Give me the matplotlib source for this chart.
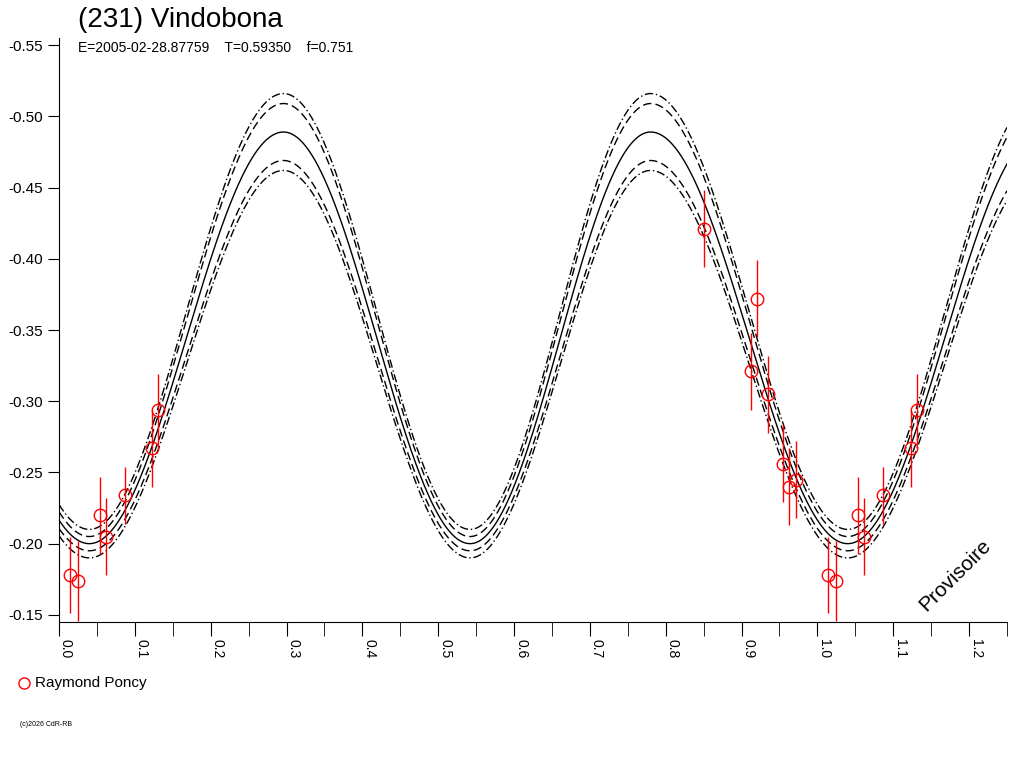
import numpy as np
import matplotlib
matplotlib.use("Agg")
import matplotlib.pyplot as plt
from matplotlib.ticker import MultipleLocator

plt.rcParams['font.family'] = ['Liberation Sans', 'DejaVu Sans']

# Observations (phase, reduced magnitude, error)
obs_phase = [0.0145, 0.025, 0.054, 0.062, 0.087, 0.123, 0.131,
             0.850, 0.920, 0.912, 0.935, 0.954, 0.963, 0.972]
obs_mag = [-0.178, -0.174, -0.220, -0.205, -0.234, -0.267, -0.294,
           -0.421, -0.372, -0.321, -0.305, -0.256, -0.240, -0.245]
obs_err = [0.027, 0.028, 0.027, 0.027, 0.020, 0.027, 0.025,
           0.027, 0.027, 0.027, 0.027, 0.027, 0.027, 0.027]

# Model light curve extrema (phase, magnitude) for fit and envelopes
ext_phase = [0.040, 0.296, 0.542, 0.780]
solid_vals = [-0.200, -0.489, -0.200, -0.489]
env = [  # (trough value, peak value, linestyle)
    (-0.205, -0.509, (0, (6, 3))),
    (-0.195, -0.469, (0, (6, 3))),
    (-0.210, -0.516, (0, (6, 2, 1, 2))),
    (-0.190, -0.462, (0, (6, 2, 1, 2))),
]

def curve(x, phases, vals):
    ph = list(phases) + [phases[0] + 1]
    vv = list(vals) + [vals[0]]
    xm = np.mod(x - phases[0], 1.0) + phases[0]
    y = np.empty_like(x)
    for i in range(len(ph) - 1):
        m = (xm >= ph[i]) & (xm < ph[i + 1])
        t = (xm[m] - ph[i]) / (ph[i + 1] - ph[i])
        y[m] = vv[i] + (vv[i + 1] - vv[i]) * (1 - np.cos(np.pi * t)) / 2
    return y

fig = plt.figure(figsize=(10.24, 7.68), dpi=100)
ax = fig.add_axes([59/1024, 1-622/768, (1007-59)/1024, (622-38)/768])
x = np.linspace(0, 1.25, 2000)
ax.plot(x, curve(x, ext_phase, solid_vals), color='black', lw=1)
for tv, pv, ls in env:
    ax.plot(x, curve(x, ext_phase, [tv, pv, tv, pv]), color='black', lw=1, ls=ls)

px = np.array(obs_phase); py = np.array(obs_mag); pe = np.array(obs_err)
for shift in (0, 1):
    xs = px + shift
    m = (xs >= 0) & (xs <= 1.25)
    ax.errorbar(xs[m], py[m], yerr=pe[m], fmt='o', mfc='none', mec='red',
                ecolor='red', elinewidth=1, ms=9, mew=1, capsize=0)

ax.set_xlim(0, 1.25)
ax.set_ylim(-0.145, -0.555)
for s in ('top', 'right'):
    ax.spines[s].set_visible(False)
ax.xaxis.set_minor_locator(MultipleLocator(0.05))
ax.tick_params(axis='x', which='both', direction='out', length=10, labelsize=10, pad=2)
ax.tick_params(axis='y', direction='out', length=8, labelsize=11)
xt = np.arange(0, 1.25, 0.1)
ax.set_xticks(xt)
ax.set_xticklabels([f"{v:.1f}" for v in xt], rotation=270, ha='left')
yt = np.arange(-0.55, -0.149, 0.05)
ax.set_yticks(yt)
ax.set_yticklabels([f"{v:.2f}" for v in yt])

fig.text(78/1024, 1-20/768, "(231) Vindobona", fontsize=20, va='center')
fig.text(78/1024, 1-48/768, "E=2005-02-28.87759    T=0.59350    f=0.751", fontsize=10, va='center')
fig.text(955/1024, 1-575/768, "Provisoire", fontsize=15, rotation=45, ha='center', va='center')
fig.lines.append(matplotlib.lines.Line2D([24/1024], [1-683/768], marker='o', mfc='none',
                 mec='red', ms=8, transform=fig.transFigure))
fig.text(35/1024, 1-683/768, "Raymond Poncy", fontsize=11, va='center')
fig.text(20/1024, 1-725/768, "(c)2026 CdR-RB", fontsize=5, va='center')
fig.savefig("out.png", dpi=100)
